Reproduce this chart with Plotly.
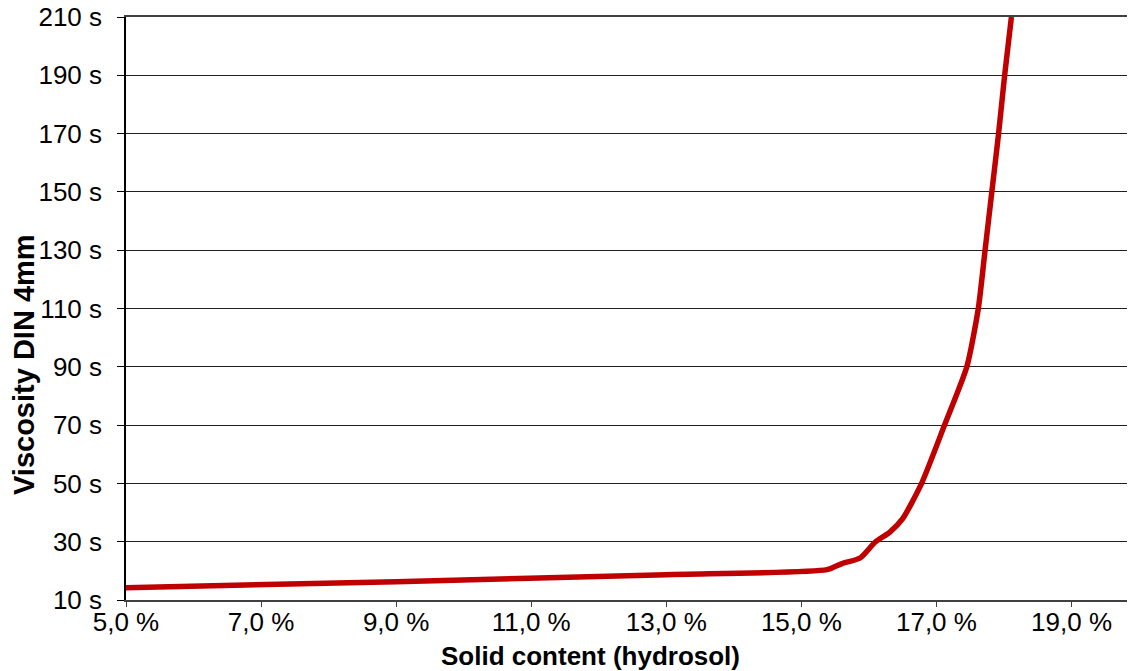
import plotly.graph_objects as go

solid_content = [5.0, 9.0, 13.0, 15.38, 15.6, 15.87, 16.09, 16.31, 16.5, 16.78,
                 17.12, 17.45, 17.62, 17.72, 17.82, 17.92, 18.01, 18.11]
viscosity = [14.2, 16.3, 18.7, 20.4, 22.5, 24.4, 29.8, 33.3, 37.9, 50.0,
             70.0, 90.0, 110.0, 130.0, 150.0, 170.0, 190.0, 210.0]

x_tickvals = [5, 7, 9, 11, 13, 15, 17, 19]
x_ticktext = ["5,0 %", "7,0 %", "9,0 %", "11,0 %", "13,0 %", "15,0 %", "17,0 %", "19,0 %"]
y_tickvals = [10, 30, 50, 70, 90, 110, 130, 150, 170, 190, 210]
y_ticktext = ["10 s", "30 s", "50 s", "70 s", "90 s", "110 s", "130 s", "150 s", "170 s", "190 s", "210 s"]

x_title = "Solid content (hydrosol)"
y_title = "Viscosity DIN 4mm"

fig = go.Figure()
fig.add_trace(go.Scatter(
    x=solid_content, y=viscosity, mode="lines",
    line=dict(color="rgb(192,0,0)", width=5.5, shape="spline", smoothing=0.6),
    showlegend=False, hoverinfo="skip", cliponaxis=True))

family = "Liberation Sans, Arial, sans-serif"
font = dict(family=family, size=26, color="black")

# The page body has an 8px margin; the figure is sized/offset to compensate.
W, H = 1127, 663
ml, mt, mb, mr = 118, 9, 71, 0
plot_w = W - ml - mr
plot_h = H - mt - mb

def px_to_paper_x(px):
    return (px - 8 - ml) / plot_w

def px_to_paper_y(py):
    return (H - mb - (py - 8)) / plot_h

fig.update_layout(
    width=W, height=H,
    margin=dict(l=ml, r=mr, t=mt, b=mb, autoexpand=False),
    plot_bgcolor="white", paper_bgcolor="white",
    font=font,
    xaxis=dict(
        range=[5, 19.94], tickvals=x_tickvals, ticktext=x_ticktext,
        showgrid=False, zeroline=False,
        showline=True, linecolor="#404040", linewidth=2, mirror=True,
        ticks="outside", ticklen=5, tickcolor="#404040", tickwidth=1,
        ticklabelstandoff=-7,
    ),
    yaxis=dict(
        range=[10, 210], tickvals=y_tickvals, ticktext=y_ticktext,
        showgrid=True, gridcolor="#202020", gridwidth=1, zeroline=False,
        showline=True, linecolor="black", linewidth=1.5,
        ticks="outside", ticklen=7, tickcolor="black", tickwidth=1,
        ticklabelstandoff=10, ticklabeloverflow="allow",
    ),
    annotations=[
        dict(text="<b>" + x_title + "</b>", xref="paper", yref="paper",
             x=px_to_paper_x(590.5), y=px_to_paper_y(656),
             xanchor="center", yanchor="middle", showarrow=False,
             font=dict(family=family, size=26, color="black")),
        dict(text="<b>" + y_title + "</b>", xref="paper", yref="paper",
             x=px_to_paper_x(23.5), y=px_to_paper_y(364.5), textangle=-90,
             xanchor="center", yanchor="middle", showarrow=False,
             font=dict(family=family, size=29, color="black")),
    ],
)

fig.write_html("out.html")
